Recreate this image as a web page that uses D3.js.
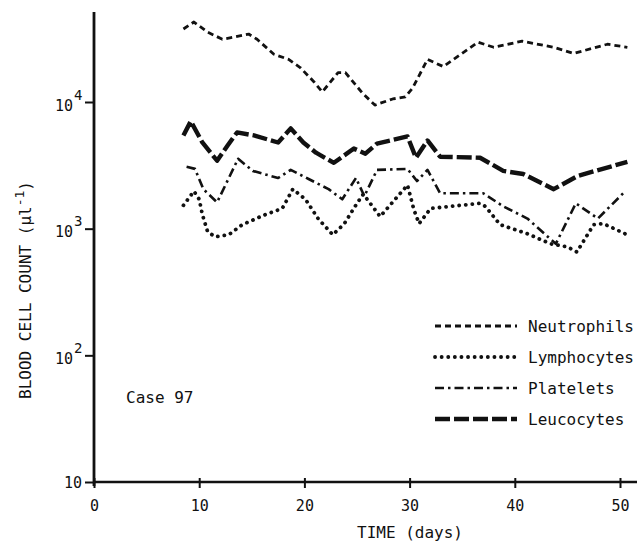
<!DOCTYPE html>
<html>
<head>
<meta charset="utf-8">
<script src="https://cdn.jsdelivr.net/npm/d3@7"></script>
<style>
  body { margin: 0; background: #fff; }
  svg { display: block; }
  text { font-family: 'DejaVu Sans Mono', monospace; fill: #111; }
</style>
</head>
<body>
<div id="chart"></div>
<script>
// DATA (days vs cells per microlitre)
let neutroDays = [8.5, 9.5, 10.8, 12.2, 13.3, 14.7, 15.5, 17.1, 18.5, 19.6, 20.9, 21.7, 23.2, 23.9, 25.5, 26.7, 28.4, 29.6, 30.3, 31.7, 33.2, 36.5, 38.0, 40.7, 43.7, 45.6, 48.8, 50.7]
let neutroVals = [37700, 42800, 35600, 31300, 32500, 34400, 31300, 23800, 21700, 18700, 14450, 12000, 17060, 17060, 11800, 9460, 10570, 10960, 12940, 21700, 19050, 29650, 27040, 30200, 27040, 24200, 28580, 27040]

let lymphoDays = [8.5, 9.5, 10.0, 10.3, 10.8, 11.5, 12.8, 14.1, 16.3, 17.9, 18.9, 20.1, 21.3, 22.7, 23.8, 25.0, 25.6, 27.2, 29.8, 30.4, 30.9, 32.0, 36.7, 37.2, 38.6, 41.2, 43.4, 45.0, 45.9, 47.5, 48.4, 50.7]
let lymphoVals = [1528, 1977, 1706, 1294, 946, 863, 895, 1076, 1294, 1445, 2051, 1706, 1202, 895, 1096, 1585, 1871, 1247, 2208, 1419, 1096, 1445, 1585, 1500, 1076, 912, 759, 718, 655, 1076, 1096, 895]

let plateDays = [8.8, 9.6, 10.4, 11.7, 13.7, 15.1, 17.5, 18.7, 20.4, 22.3, 23.6, 24.9, 25.7, 26.9, 29.8, 30.7, 31.7, 32.9, 37.0, 38.9, 41.2, 43.9, 45.8, 47.9, 50.5]
let plateVals = [3076, 2965, 2051, 1614, 3565, 2858, 2512, 2911, 2466, 2051, 1706, 2512, 1803, 2911, 2965, 2377, 2911, 1905, 1905, 1500, 1202, 759, 1585, 1202, 1977]

let leucoDays = [8.5, 9.2, 10.3, 11.7, 12.7, 13.6, 15.2, 17.5, 18.7, 19.9, 21.1, 22.8, 24.7, 25.8, 26.9, 29.8, 30.6, 31.7, 32.9, 36.7, 38.9, 40.8, 43.7, 46.0, 50.7]
let leucoVals = [5445, 7050, 4790, 3440, 4530, 5750, 5445, 4790, 6190, 4790, 3980, 3310, 4290, 3910, 4700, 5350, 3630, 4970, 3700, 3630, 2860, 2700, 2050, 2610, 3370]

let xTicks = [0, 10, 20, 30, 40, 50]
let yTicks = [10, 100, 1000, 10000]
let yTickExp = ['', '2', '3', '4']
let seriesNames = ['Neutrophils', 'Lymphocytes', 'Platelets', 'Leucocytes']

// CHART SETUP
let width = 637, height = 546

let svg = d3.select('#chart')
  .append('svg')
  .attr('width', width)
  .attr('height', height)

let x = d3.scaleLinear().domain([0, 50]).range([94, 620])
let y = d3.scaleLog().domain([10, 10000]).range([482, 102])

// line styles per series
let styles = [
  { dash: '6,4', width: 2.8, cap: 'butt' },
  { dash: '0.1,6.5', width: 3.8, cap: 'round' },
  { dash: '9,4,2.5,4', width: 2.6, cap: 'butt' },
  { dash: '15,4', width: 4.4, cap: 'butt' }
]

let series = [
  neutroDays.map((d, i) => [d, neutroVals[i]]),
  lymphoDays.map((d, i) => [d, lymphoVals[i]]),
  plateDays.map((d, i) => [d, plateVals[i]]),
  leucoDays.map((d, i) => [d, leucoVals[i]])
]

let line = d3.line()
  .x(d => x(d[0]))
  .y(d => y(d[1]))

svg.selectAll('.series')
  .data(series)
  .enter().append('path')
  .attr('class', 'series')
  .attr('d', line)
  .attr('fill', 'none')
  .attr('stroke', '#111')
  .attr('stroke-width', (d, i) => styles[i].width)
  .attr('stroke-dasharray', (d, i) => styles[i].dash)
  .attr('stroke-linecap', (d, i) => styles[i].cap)
  .attr('stroke-linejoin', 'round')

// AXES
let xAxis = svg.append('g')
  .attr('transform', 'translate(0,' + y(10) + ')')
  .call(d3.axisBottom(x).tickValues(xTicks).tickSize(6).tickPadding(12).tickFormat(d3.format('d')))
xAxis.select('.domain').remove()
xAxis.selectAll('.tick line').attr('y1', -4).attr('y2', 6).attr('stroke', '#111').attr('stroke-width', 2)
xAxis.selectAll('.tick text').style('font-size', '15px').attr('fill', '#111')
xAxis.append('line')
  .attr('x1', x(0) - 1).attr('x2', 637)
  .attr('stroke', '#111').attr('stroke-width', 2.6)

let yAxis = svg.append('g')
  .attr('transform', 'translate(' + x(0) + ',0)')
  .call(d3.axisLeft(y).tickValues(yTicks).tickSize(9).tickFormat(''))
yAxis.select('.domain').remove()
yAxis.selectAll('.tick line').attr('stroke', '#111').attr('stroke-width', 2)
yAxis.append('line')
  .attr('y1', y(10) + 4).attr('y2', 12)
  .attr('stroke', '#111').attr('stroke-width', 2.8)

yAxis.selectAll('.tick').each(function (d, i) {
  d3.select(this).append('text')
    .attr('x', yTickExp[i] ? -21 : -12)
    .attr('y', 0)
    .attr('dy', yTickExp[i] ? '0.55em' : '0.35em')
    .style('text-anchor', 'end')
    .style('font-size', '15px')
    .attr('fill', '#111')
    .text('10')
  if (yTickExp[i]) {
    d3.select(this).append('text')
      .attr('x', -20)
      .attr('y', -3)
      .style('text-anchor', 'start')
      .style('font-size', '14px')
      .attr('fill', '#111')
      .text(yTickExp[i])
  }
})

// AXIS TITLES
svg.append('text')
  .attr('x', 410)
  .attr('y', 538)
  .style('text-anchor', 'middle')
  .style('font-size', '16px')
  .text('TIME (days)')

let yTitle = svg.append('text')
  .attr('transform', 'translate(31,290) rotate(-90)')
  .style('text-anchor', 'middle')
  .style('font-size', '16px')
yTitle.append('tspan').text('BLOOD CELL COUNT (\u00b5l')
yTitle.append('tspan').attr('dy', -7).style('font-size', '13px').text('-1')
yTitle.append('tspan').attr('dy', 7).text(')')

svg.append('text')
  .attr('x', 126)
  .attr('y', 403)
  .style('font-size', '16px')
  .text('Case 97')

// LEGEND
let legendY = [326, 357, 388, 419]
let legend = svg.selectAll('.legend-row')
  .data(seriesNames)
  .enter().append('g')
  .attr('class', 'legend-row')
  .attr('transform', (d, i) => 'translate(435,' + legendY[i] + ')')

legend.append('line')
  .attr('x1', 0).attr('x2', 82)
  .attr('stroke', '#111')
  .attr('stroke-width', (d, i) => styles[i].width)
  .attr('stroke-dasharray', (d, i) => styles[i].dash)
  .attr('stroke-linecap', (d, i) => styles[i].cap)

legend.append('text')
  .attr('x', 93)
  .attr('dy', '0.35em')
  .style('font-size', '16px')
  .text(d => d)
</script>
</body>
</html>
